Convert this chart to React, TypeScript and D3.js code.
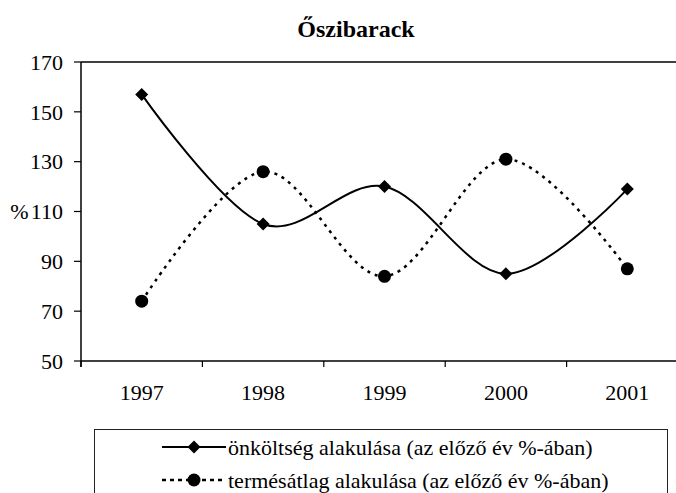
import * as d3 from "d3";

const title = "Őszibarack";
const years = ["1997", "1998", "1999", "2000", "2001"];
const onkoltseg = [157, 105, 120, 85, 119];
const termesatlag = [74, 126, 84, 131, 87];
const yTicks = [50, 70, 90, 110, 130, 150, 170];
const seriesNames = [
  "önköltség alakulása (az előző év %-ában)",
  "termésátlag alakulása (az előző év %-ában)",
];
const yAxisTitle = "%";

const width = 676;
const height = 493;
const left = 81, right = 688, top = 62, bottom = 361;

const x = d3.scaleBand<string>().domain(years).range([left, right]).padding(0);
const y = d3.scaleLinear().domain([50, 170]).range([bottom, top]);
const cx = (d: string) => (x(d) as number) + x.bandwidth() / 2;

const line = d3.line<number>()
  .x((_, i) => cx(years[i]))
  .y((d) => y(d))
  .curve(d3.curveCatmullRom.alpha(0));

const diamond = "M0,-6.5L6.5,0L0,6.5L-6.5,0Z";
const bounds = years.map((d) => x(d) as number).concat([right]);
const legendRows = [447, 480];

const font = { fontFamily: '"Liberation Serif"', fontSize: "22px" };

const App = () => (
  <svg width={width} height={height}
    style={{ position: "absolute", left: 0, top: 0, fontFamily: '"Liberation Serif"' }}>
    <rect width={width} height={height} fill="white" />
    <text x={356} y={37} textAnchor="middle"
      style={{ fontFamily: '"Liberation Serif"', fontSize: "24px", fontWeight: "bold" }}>
      {title}
    </text>

    {/* frame top */}
    <line x1={left} x2={right} y1={top} y2={top} stroke="black" strokeWidth={1.5} />

    {/* y axis */}
    <line x1={left} x2={left} y1={top} y2={bottom + 6} stroke="black" strokeWidth={1.5} />
    {yTicks.map((t) => (
      <g key={t}>
        <line x1={left - 7} x2={left} y1={y(t)} y2={y(t)} stroke="black" strokeWidth={1.2} />
        <text x={63} y={y(t)} dy="0.35em" textAnchor="end" style={font}>{t}</text>
      </g>
    ))}
    <text x={19.5} y={y(110)} dy="0.35em" textAnchor="middle" style={font}>{yAxisTitle}</text>

    {/* x axis */}
    <line x1={left} x2={right} y1={bottom} y2={bottom} stroke="black" strokeWidth={1.5} />
    {bounds.map((b) => (
      <line key={b} x1={b} x2={b} y1={bottom} y2={bottom + 6} stroke="black" strokeWidth={1.2} />
    ))}
    {years.map((d) => (
      <text key={d} x={cx(d)} y={392} dy="0.35em" textAnchor="middle" style={font}>{d}</text>
    ))}

    {/* series */}
    <path d={line(termesatlag) ?? ""} fill="none" stroke="black" strokeWidth={2.5} strokeDasharray="3,5" />
    <path d={line(onkoltseg) ?? ""} fill="none" stroke="black" strokeWidth={2} />
    {termesatlag.map((v, i) => (
      <circle key={i} cx={cx(years[i])} cy={y(v)} r={6.5} fill="black" />
    ))}
    {onkoltseg.map((v, i) => (
      <path key={i} d={diamond} transform={`translate(${cx(years[i])},${y(v)})`} fill="black" />
    ))}

    {/* legend */}
    <rect x={94.5} y={429.5} width={573} height={100} fill="white" stroke="#222" strokeWidth={1} />
    {seriesNames.map((name, i) => (
      <g key={name}>
        <line x1={162} x2={226} y1={legendRows[i]} y2={legendRows[i]} stroke="black"
          strokeWidth={i === 0 ? 2 : 2.5} strokeDasharray={i === 0 ? undefined : "4,4"} />
        {i === 0 ? (
          <path d={diamond} transform={`translate(194,${legendRows[i]})`} fill="black" />
        ) : (
          <circle cx={194} cy={legendRows[i]} r={6.5} fill="black" />
        )}
        <text x={228} y={legendRows[i]} dy="0.35em" style={font}>{name}</text>
      </g>
    ))}
  </svg>
);

export default App;
